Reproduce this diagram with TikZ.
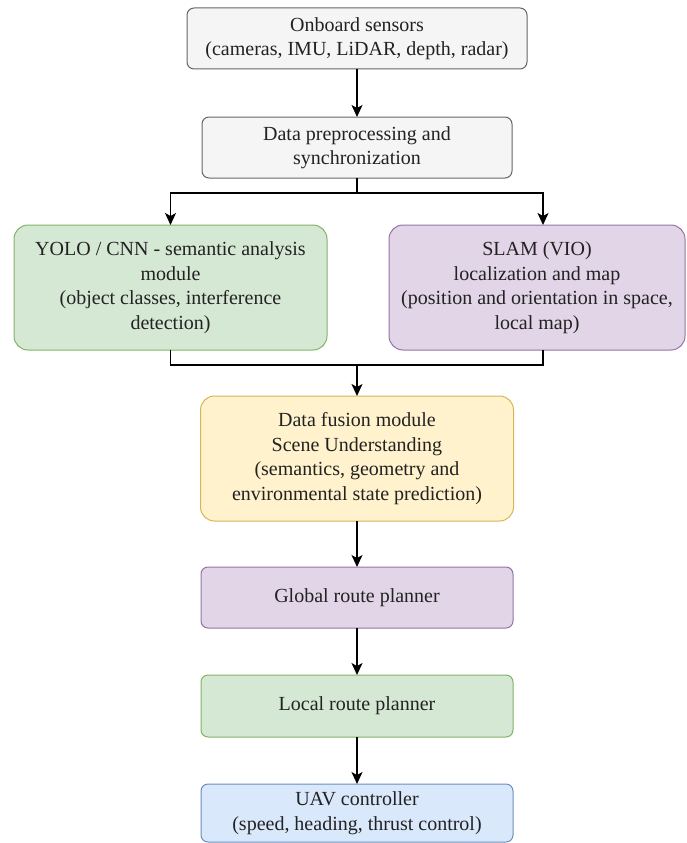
\documentclass[tikz,border=0pt]{standalone}
\usepackage{fontspec}
\setmainfont{Liberation Serif}
\usetikzlibrary{arrows.meta,calc}

\definecolor{grayfill}{HTML}{F5F5F5}\definecolor{graydraw}{HTML}{666666}
\definecolor{greenfill}{HTML}{D5E8D4}\definecolor{greendraw}{HTML}{82B366}
\definecolor{purplefill}{HTML}{E1D5E7}\definecolor{purpledraw}{HTML}{9673A6}
\definecolor{yellowfill}{HTML}{FFF2CC}\definecolor{yellowdraw}{HTML}{D6B656}
\definecolor{bluefill}{HTML}{DAE8FC}\definecolor{bluedraw}{HTML}{6C8EBF}
\definecolor{textgray}{HTML}{222222}

\begin{document}
\begin{tikzpicture}[x=1pt, y=-1pt, outer sep=0pt]

\tikzstyle{block}=[draw, rectangle, rounded corners=7pt, align=center, inner sep=0pt, line width=1pt, text=textgray, font=\fontsize{20}{24.5}\selectfont]
\tikzstyle{tall}=[block, rounded corners=14pt, minimum height=125]
\tikzstyle{link}=[line width=1.4pt]
\tikzstyle{arrow}=[link, -{Stealth[length=12pt, width=11pt, inset=3pt]}]

\useasboundingbox (0,0) rectangle (686,843);

\node[block, fill=grayfill, draw=graydraw, minimum width=340, minimum height=61] (sensors) at (357,38.5) {Onboard sensors\\(cameras, IMU, LiDAR, depth, radar)};
\node[block, fill=grayfill, draw=graydraw, minimum width=310, minimum height=61] (prep) at (357,147.5) {Data preprocessing and\\synchronization};

\node[tall, fill=greenfill, draw=greendraw, minimum width=313] (yolo) at (170.5,287.5) {YOLO / CNN - semantic analysis\\module\\(object classes, interference\\detection)};
\node[tall, fill=purplefill, draw=purpledraw, minimum width=296] (slam) at (537,287.5) {SLAM (VIO)\\localization and map\\(position and orientation in space,\\local map)};

\node[tall, fill=yellowfill, draw=yellowdraw, minimum width=313] (fusion) at (357,458.5) {Data fusion module\\Scene Understanding\\(semantics, geometry and\\environmental state prediction)};

\node[block, fill=purplefill, draw=purpledraw, minimum width=312, minimum height=61] (global) at (357,597.5) {Global route planner};
\node[block, fill=greenfill, draw=greendraw, minimum width=312, minimum height=62] (local) at (357,706) {Local route planner};
\node[block, fill=bluefill, draw=bluedraw, minimum width=312, minimum height=58] (uav) at (357,813) {UAV controller\\(speed, heading, thrust control)};

\coordinate (split) at (357,193);
\coordinate (merge) at (357,365);

\draw[arrow] (sensors.south) -- (prep.north);
\draw[link] (prep.south) -- (split);
\draw[arrow] (split) -| (yolo.north);
\draw[arrow] (split) -| ($(slam.north)+(6,0)$);
\draw[link] (yolo.south) |- (merge);
\draw[link] ($(slam.south)+(6,0)$) |- (merge);
\draw[arrow] (merge) -- (fusion.north);
\draw[arrow] (fusion.south) -- (global.north);
\draw[arrow] (global.south) -- (local.north);
\draw[arrow] (local.south) -- (uav.north);

\end{tikzpicture}
\end{document}
